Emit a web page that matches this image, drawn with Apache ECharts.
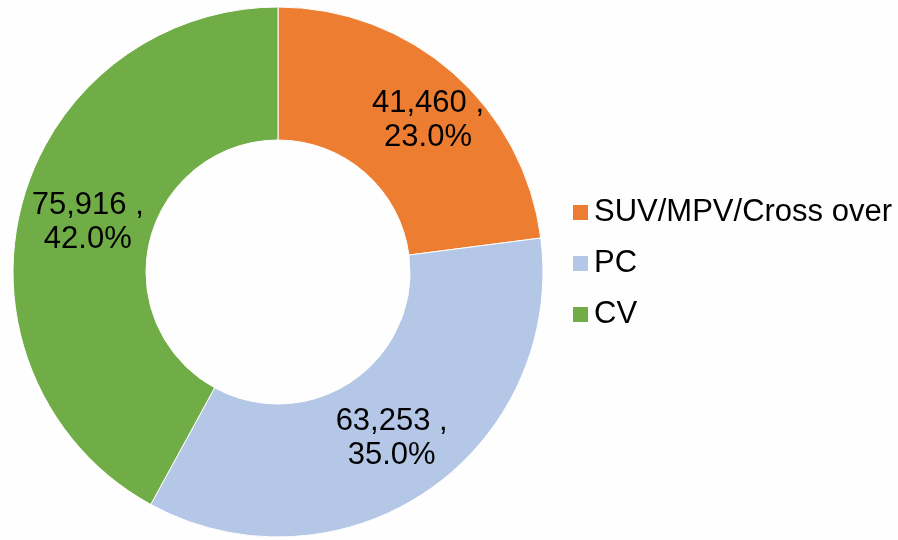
<!DOCTYPE html>
<html>
<head>
<meta charset="utf-8">
<script src="https://cdn.jsdelivr.net/npm/echarts@6/dist/echarts.min.js"></script>
<style>
html,body{margin:0;padding:0;background:#fefefe;}
#c{width:898px;height:540px;}
</style>
</head>
<body>
<div id="c"></div>
<script>
const categories = ['SUV/MPV/Cross over', 'PC', 'CV'];
const values = [41460, 63253, 75916];
const colors = ['#ED7D31', '#B4C7E7', '#70AD47'];
const labelShift = [[17, 0], [0, 0], [5, 0]];

const total = values.reduce((a, b) => a + b, 0);
const chart = echarts.init(document.getElementById('c'), null, {renderer: 'canvas'});
chart.setOption({
  backgroundColor: '#fefefe',
  animation: false,
  legend: {
    orient: 'vertical',
    left: 566,
    top: 192,
    itemWidth: 17,
    itemHeight: 17,
    itemGap: 20,
    icon: 'rect',
    textStyle: {
      fontFamily: 'Liberation Sans, Arial, sans-serif',
      fontSize: 31,
      lineHeight: 31,
      color: '#000'
    },
    data: categories
  },
  series: [{
    type: 'pie',
    center: [278, 272],
    radius: [132, 265],
    startAngle: 90,
    clockwise: true,
    avoidLabelOverlap: false,
    itemStyle: {borderColor: '#ffffff', borderWidth: 1},
    label: {
      show: true,
      position: 'inside',
      fontFamily: 'Liberation Sans, Arial, sans-serif',
      fontSize: 31,
      lineHeight: 34,
      color: '#000',
      align: 'center',
      formatter: function (p) {
        return p.value.toLocaleString('en-US') + ' ,\n' + (p.value / total * 100).toFixed(1) + '%';
      }
    },
    labelLine: {show: false},
    emphasis: {disabled: true},
    data: categories.map((n, i) => ({
      name: n, value: values[i],
      itemStyle: {color: colors[i]},
      label: {offset: labelShift[i]}
    }))
  }]
});
</script>
</body>
</html>
